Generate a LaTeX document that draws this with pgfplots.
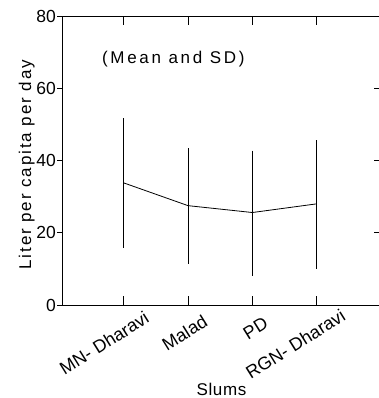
\documentclass[border=0pt]{standalone}
\usepackage{fontspec}
\setmainfont{Liberation Sans}
\newfontfamily\wideA[LetterSpace=4]{Liberation Sans}
\newfontfamily\wideB[LetterSpace=11]{Liberation Sans}
\newfontfamily\wideC[LetterSpace=16]{Liberation Sans}
\usepackage{pgfplots}
\pgfplotsset{compat=1.18}
\pgfplotstableread{
x y ep em
1 33.8 17.4 17.4
2 27.5 15.3 15.5
3 25.6 16.6 17.0
4 28.0 17.1 17.4
}\slumdata
\begin{document}
\begin{tikzpicture}[x=1pt,y=1pt]
\path[use as bounding box] (0,0) rectangle (379,398);
\pgfplotsset{base/.style={at={(62pt,93pt)}, anchor=south west, scale only axis,
  width=319pt, height=289pt, xmin=0.04, xmax=5, ymin=0, ymax=80}}
% left y ticks, outside, with labels
\begin{axis}[base, axis line style={draw=none}, xtick=\empty,
  /pgf/number format/assume math mode=true,
  ytick={0,20,40,60,80}, ytick pos=left, tick align=outside, major tick length=5pt,
  ytick style={black, line width=0.8pt},
  yticklabel style={font=\fontsize{17.5}{20}\selectfont, inner sep=1pt}]
\end{axis}
% right y ticks, inside, no labels
\begin{axis}[base, axis line style={draw=none}, xtick=\empty,
  ytick={0,20,40,60,80}, yticklabels={}, ytick pos=right, tick align=inside, major tick length=7pt,
  ytick style={black, line width=0.8pt}]
\end{axis}
% main axis
\begin{axis}[base, axis line style={black, line width=0.9pt},
  xtick={1,2,3,4}, ytick={0,20,40,60,80}, yticklabels={},
  tick pos=both, tick align=inside, major tick length=9pt,
  xtick style={black, line width=1pt}, ytick style={draw=none},
  xticklabels={MN- Dharavi, Malad, PD, RGN- Dharavi},
  xticklabel style={font=\fontsize{18}{20}\selectfont, rotate=32, anchor=north east, inner sep=0pt,
    xshift={{14,7,3,18}[\ticknum]}, yshift=-15pt},
  xlabel={Slums},
  xlabel style={font=\wideA\fontsize{17}{20}\selectfont, at={(axis description cs:0.5,0)}, anchor=base, inner sep=0pt, yshift=-90pt},
  ylabel={Liter per capita per day},
  ylabel style={font=\wideB\fontsize{17}{20}\selectfont, at={(axis description cs:-0.085,0.485)}, anchor=south, inner sep=0pt},
  ]
\addplot[black, line width=0.8pt, mark=none,
  error bars/.cd, y dir=both, y explicit, error mark=-, error mark options={mark size=2pt, line width=0.8pt},
  error bar style={line width=0.8pt}]
  table[x=x, y=y, y error plus=ep, y error minus=em] {\slumdata};
\node[anchor=base west, inner sep=0pt, font=\wideC\fontsize{17}{20}\selectfont] at (rel axis cs:0.125,0.834) {(Mean and SD)};
\end{axis}
\end{tikzpicture}
\end{document}
